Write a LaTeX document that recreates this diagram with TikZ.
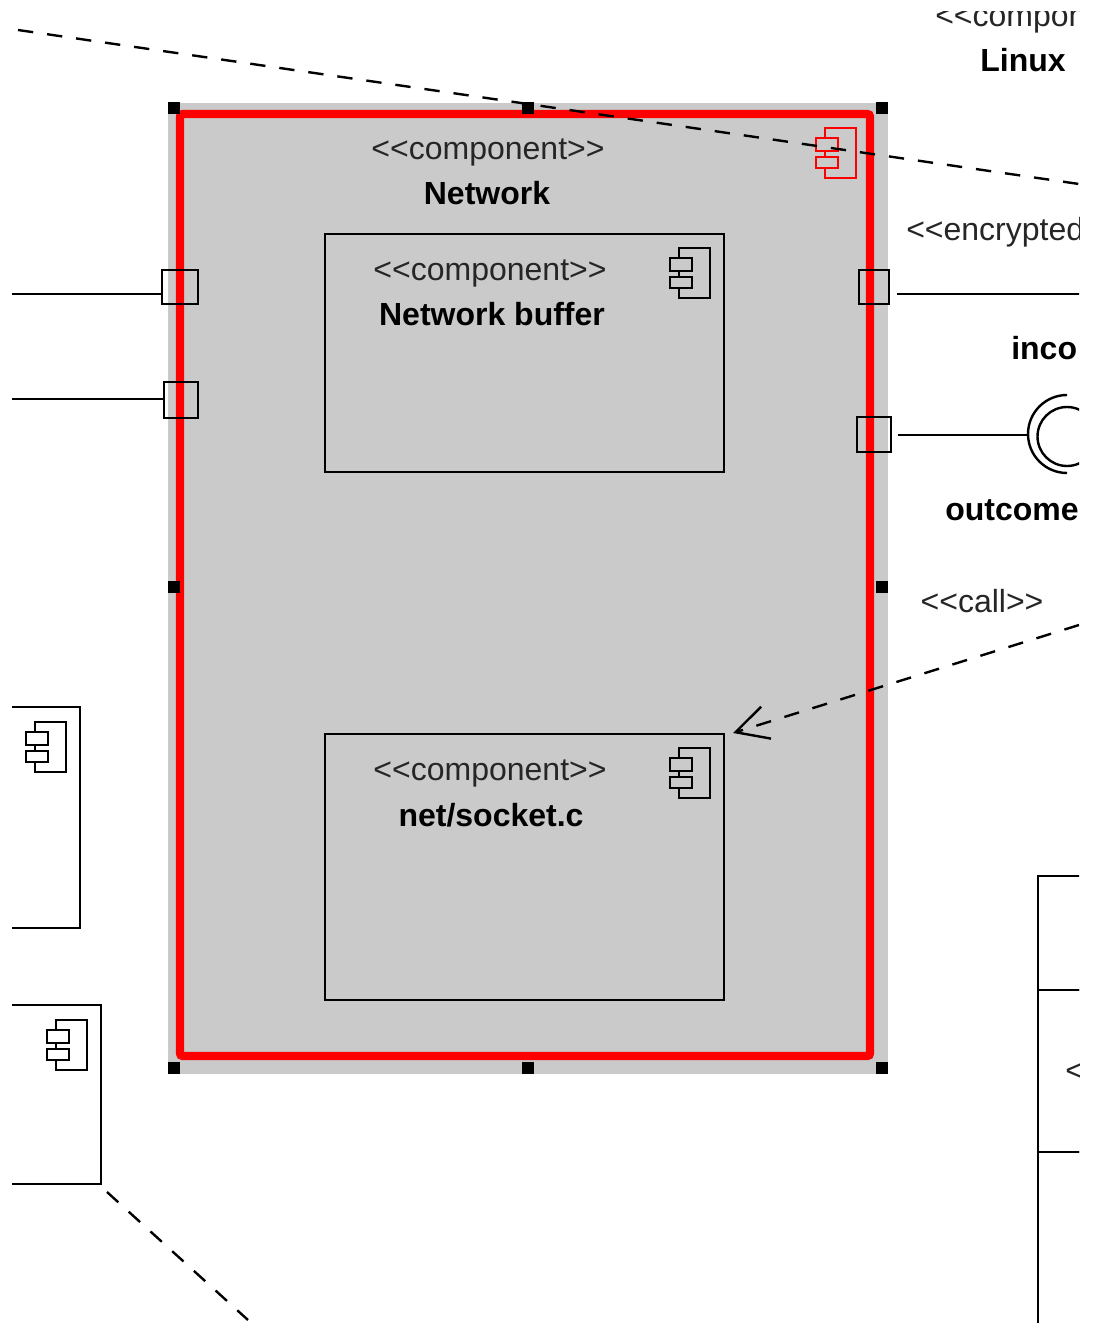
\documentclass[tikz,border=0pt]{standalone}
\usepackage{fontspec}
\setmainfont{Liberation Sans}
\usetikzlibrary{arrows.meta}
\definecolor{selgray}{HTML}{CACACA}
\newcommand{\stereotype}[1]{<\kern0pt<#1>\kern0pt>}
\tikzset{
  compbox/.style={draw, line width=1.8pt, inner sep=0pt, outer sep=0pt},
  portbox/.style={draw, line width=1.8pt, inner sep=0pt, outer sep=0pt},
  handle/.style={fill=black, inner sep=0pt, outer sep=0pt, minimum size=9pt},
  stereo/.style={font=\fontsize{24}{24}\selectfont, text=black!85, inner sep=0pt},
  title/.style={font=\fontsize{24}{24}\selectfont\bfseries, inner sep=0pt},
  wire/.style={line width=1.8pt},
  dep/.style={line width=1.8pt, dash pattern=on 11.5pt off 10.5pt},
  compicon/.pic={
    \draw[pic actions, line width=1.9pt] (0,0) rectangle (31,50);
    \draw[pic actions, line width=1.9pt] (-9,10) rectangle (13,23);
    \draw[pic actions, line width=1.9pt] (-9,29) rectangle (13,40);
  }
}
\begin{document}
\begin{tikzpicture}[x=0.75pt, y=-0.75pt]
  \useasboundingbox (0,0) rectangle (1096,1326);
  \clip (12,12) rectangle (1079,1322);
  % selected component
  \node[fill=selgray, minimum width=540pt, minimum height=728.25pt, inner sep=0pt] (netsel) at (528,588.5) {};
  \node[draw=red, line width=6.2pt, rounded corners=2pt, minimum width=517.5pt, minimum height=706.5pt, inner sep=0pt] (network) at (525,585) {};
  \foreach \x/\y/\n in {174/108/a, 528/108/b, 882/108/c, 174/587/d, 882/587/e, 174/1068/f, 528/1068/g, 882/1068/h}
    \node[handle] (handle\n) at (\x,\y) {};
  \node[stereo] (netstereo) at (488,152) {\stereotype{component}};
  \node[title] (nettitle) at (487,193) {Network};
  \pic[draw=red, fill=selgray] at (825,128) {compicon};
  % inner components
  \node[compbox, minimum width=299.25pt, minimum height=178.5pt] (buffer) at (524.5,353) {};
  \node[stereo] (bufstereo) at (490,273) {\stereotype{component}};
  \node[title] (buftitle) at (492,314) {Network buffer};
  \pic[draw=black, fill=selgray] at (679,248) {compicon};
  \node[compbox, minimum width=299.25pt, minimum height=199.5pt] (socket) at (524.5,867) {};
  \node[stereo] (sockstereo) at (490,773) {\stereotype{component}};
  \node[title] (socktitle) at (491,815) {net/socket.c};
  \pic[draw=black, fill=selgray] at (679,748) {compicon};
  % neighbours, cut by the frame
  \node[compbox, minimum width=135pt, minimum height=165.75pt] (leftA) at (-10,817.5) {};
  \pic[draw=black, fill=white] at (35,722) {compicon};
  \node[compbox, minimum width=150.75pt, minimum height=134.25pt] (leftB) at (0.5,1094.5) {};
  \pic[draw=black, fill=white] at (56,1020) {compicon};
  \node[compbox, minimum width=150pt, minimum height=85.5pt] (rightA) at (1138,933) {};
  \node[compbox, minimum width=150pt, minimum height=121.5pt] (rightB) at (1138,1071) {};
  \node[compbox, minimum width=150pt, minimum height=180pt] (rightC) at (1138,1272) {};
  \node[stereo, anchor=west] (rightstereo) at (1065,1072) {<};
  % ports
  \node[portbox, minimum width=27pt, minimum height=25.5pt] (portA) at (180,287) {};
  \node[portbox, minimum width=25.5pt, minimum height=27pt] (portB) at (181,400) {};
  \node[portbox, minimum width=22.5pt, minimum height=25.5pt] (portC) at (874,287) {};
  \node[portbox, minimum width=25.5pt, minimum height=26.25pt] (portD) at (874,434.5) {};
  \coordinate (wireA) at (0,294);
  \coordinate (wireB) at (0,399);
  \coordinate (wireC) at (1090,294);
  \coordinate (socketend) at (1029,435);
  \draw[wire] (wireA) -- (portA.west |- wireA);
  \draw[wire] (wireB) -- (portB.west |- wireB);
  \draw[wire] (portC.east |- wireC) ++(8,0) -- (wireC);
  \draw[wire] (portD.east |- socketend) ++(6.5,0) -- (socketend);
  % required interface
  \draw[wire] (1067,473) arc (90:270:39);
  \draw[wire] (1067,436.5) circle (29.5);
  % texts outside
  \node[stereo, anchor=west] (linuxstereo) at (935,20) {<\kern0pt<compon};
  \node[title] (linuxtitle) at (1023,60) {Linux};
  \node[stereo, anchor=west] (encstereo) at (906,232) {<\kern0pt<encrypted};
  \node[title, anchor=west] (intitle) at (1011,348) {inco};
  \node[title, anchor=west] (outtitle) at (945,510) {outcome};
  \node[stereo] (callstereo) at (982,601) {\stereotype{call}};
  % dependencies
  \coordinate (depAstart) at (18,30);
  \coordinate (depAend) at (1079,184);
  \coordinate (depBstart) at (107,1192);
  \coordinate (depBend) at (248,1320);
  \coordinate (callstart) at (1079,625);
  \coordinate (callend) at (733,733);
  \draw[dep] (depAstart) -- (depAend);
  \draw[dep] (depBstart) -- (depBend);
  \draw[dep, -{Straight Barb[length=24pt, width=25pt, line width=1.8pt]}] (callstart) -- (callend);
\end{tikzpicture}
\end{document}
